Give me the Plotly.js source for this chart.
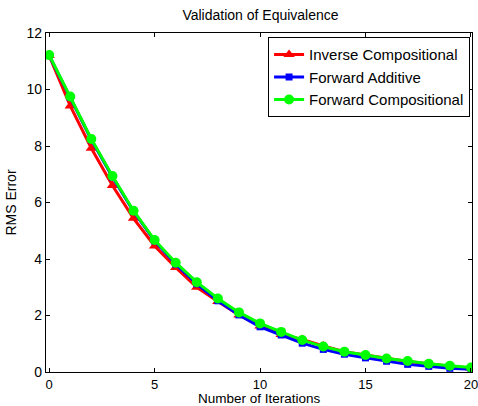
<!DOCTYPE html>
<html>
<head>
<meta charset="utf-8">
<script src="https://cdn.plot.ly/plotly-3.0.1.min.js"></script>
<style>html,body{margin:0;padding:0;background:#fff;}#chart{width:478px;height:406px;}</style>
</head>
<body>
<div id="chart"></div>
<script>
var iterations = [0,1,2,3,4,5,6,7,8,9,10,11,12,13,14,15,16,17,18,19,20];
var inverseCompositional = [11.2,9.42,7.92,6.6,5.44,4.46,3.7,3.0,2.5,2.02,1.63,1.33,1.15,0.92,0.72,0.6,0.48,0.37,0.29,0.2,0.14];
var forwardAdditive = [11.2,9.72,8.22,6.9,5.68,4.64,3.82,3.12,2.52,2.02,1.6,1.31,1.02,0.8,0.63,0.5,0.38,0.27,0.2,0.13,0.1];
var forwardCompositional = [11.22,9.75,8.25,6.94,5.71,4.67,3.87,3.18,2.6,2.11,1.72,1.42,1.13,0.9,0.72,0.6,0.48,0.39,0.29,0.22,0.16];
var seriesNames = ['Inverse Compositional','Forward Additive','Forward Compositional'];
var xTicks = [0,5,10,15,20];
var yTicks = [0,2,4,6,8,10,12];

var traces = [
  {x: iterations, y: inverseCompositional, name: seriesNames[0], mode:'lines+markers',
   line:{color:'#ff0000', width:3}, marker:{symbol:'triangle-up', size:10, color:'#ff0000'}},
  {x: iterations, y: forwardAdditive, name: seriesNames[1], mode:'lines+markers',
   line:{color:'#0000ff', width:3}, marker:{symbol:'square', size:7, color:'#0000ff'}},
  {x: iterations, y: forwardCompositional, name: seriesNames[2], mode:'lines+markers',
   line:{color:'#00ff00', width:3}, marker:{symbol:'circle', size:10, color:'#00ff00'}}
];

var axisCommon = {
  showgrid:false, zeroline:false, showline:true, mirror:'ticks', linecolor:'#000', linewidth:1.2,
  ticks:'inside', ticklen:4, tickcolor:'#000', ticklabeloverflow:'allow',
  tickfont:{family:'Liberation Sans, Arial, sans-serif', size:14, color:'#000'}
};

var layout = {
  width:478, height:406,
  margin:{l:46, r:6, t:33, b:34},
  paper_bgcolor:'#fff', plot_bgcolor:'#fff',
  font:{family:'Liberation Sans, Arial, sans-serif', color:'#000'},
  title:{text:'Validation of Equivalence', font:{size:14, color:'#000'}, x:0.545, xanchor:'center', y:0.962, yanchor:'middle'},
  xaxis: Object.assign({}, axisCommon, {range:[-0.15,20.05], tickvals:xTicks, ticktext:xTicks.map(String),
    tickfont:{family:'Liberation Sans, Arial, sans-serif', size:13, color:'#000'}}),
  yaxis: Object.assign({}, axisCommon, {range:[0,12], tickvals:yTicks, ticktext:yTicks.map(String),
    title:{text:'RMS Error', font:{size:14}, standoff:6}}),
  annotations:[{text:'Number of Iterations', xref:'paper', yref:'paper', x:0.5, y:-0.104, xanchor:'center', yanchor:'bottom',
    showarrow:false, borderpad:0, font:{size:13.5, color:'#000'}}],
  legend:{x:0.995, y:0.988, xanchor:'right', yanchor:'top', bordercolor:'#000', borderwidth:1.2, bgcolor:'#fff',
    font:{size:15, color:'#000'}, tracegroupgap:0, itemwidth:30},
  showlegend:true
};

Plotly.newPlot('chart', traces, layout, {staticPlot:true, displayModeBar:false});
</script>
</body>
</html>
